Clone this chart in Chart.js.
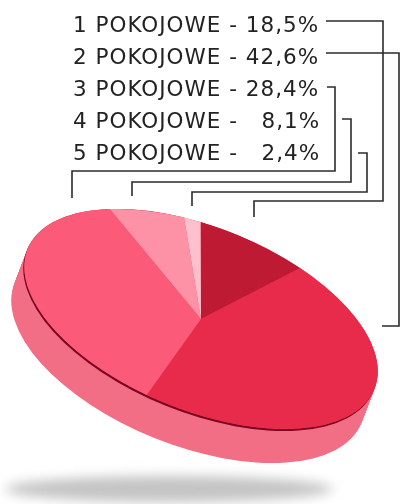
<!DOCTYPE html>
<html><head><meta charset="utf-8">
<style>html,body{margin:0;padding:0;background:#fff}canvas{display:block}</style>
<script src="https://cdn.jsdelivr.net/npm/chart.js@4"></script>
</head><body>
<canvas id="c" width="401" height="504"></canvas>
<script>
// Text as printed in the reference.
const categories = ["1 POKOJOWE","2 POKOJOWE","3 POKOJOWE","4 POKOJOWE","5 POKOJOWE"];
const statedPercent = ["18,5%","42,6%","28,4%","8,1%","2,4%"];
// Slice shares as actually drawn in the reference picture (they differ from the printed figures).
const drawnShares = [9.5, 45.5, 36.4, 7.1, 1.5];
const sliceColors = ["#be1a34","#e82b4b","#fb5a78","#fd92a6","#fec0cd"];

const labelStrings = categories.map((c,i)=>c+" - "+(statedPercent[i].length<5?"  ":"")+statedPercent[i]);

const ELL = {cx:201, cy:319, rx:187, ry:91.5, tilt:22*Math.PI/180};
const WALL = {dx:-13, dy:34, color:"#f26e85"};
const leaders = [
 [[326,21],[383,21],[383,201],[254,201],[254,217]],
 [[326,53],[399,53],[399,326],[382,326]],
 [[327,87],[335,87],[335,171],[72,171],[72,198]],
 [[342,119],[351,119],[351,182],[132,182],[132,196]],
 [[358,153],[367,153],[367,192],[192,192],[192,206]]
];

function ell(ctx,dx,dy,color){
  ctx.beginPath();
  ctx.ellipse(ELL.cx+dx,ELL.cy+dy,ELL.rx,ELL.ry,ELL.tilt,0,Math.PI*2);
  ctx.fillStyle=color;ctx.fill();
}
const tiltedPie = {
  id:"tiltedPie",
  beforeDatasetsDraw(chart){
    const ctx=chart.ctx;
    // floor shadow
    ctx.save();
    ctx.filter="blur(6px)";
    ctx.beginPath();
    ctx.ellipse(169,489,164,13,0,0,Math.PI*2);
    ctx.fillStyle="#c4c4c4";ctx.fill();
    ctx.restore();
    // side wall
    for(let i=0;i<=34;i++){ell(ctx,WALL.dx*i/34,WALL.dy*i/34,WALL.color);}
    // dark rim
    ell(ctx,-1,2,"#7a0420");
    ell(ctx,0,0,"#e82b4b");
    // project the pie into the tilted ellipse
    const a=chart.getDatasetMeta(0).data[0];
    const r=a.outerRadius;
    ctx.save();
    ctx.translate(ELL.cx,ELL.cy);
    ctx.rotate(ELL.tilt);
    ctx.scale(ELL.rx/r,ELL.ry/r);
    ctx.translate(-a.x,-a.y);
  },
  afterDatasetsDraw(chart){
    const ctx=chart.ctx;
    ctx.restore();
    // leader lines
    ctx.save();
    ctx.strokeStyle="#2b2b2b";ctx.lineWidth=1.6;ctx.lineJoin="miter";
    leaders.forEach(p=>{
      ctx.beginPath();
      p.forEach((q,i)=>i?ctx.lineTo(q[0],q[1]):ctx.moveTo(q[0],q[1]));
      ctx.stroke();
    });
    // labels
    ctx.filter="blur(0.45px)";
    ctx.fillStyle="#222";
    ctx.font='21.5px "DejaVu Sans"';
    ctx.textBaseline="alphabetic";
    ctx.letterSpacing="1px";
    labelStrings.forEach((s,i)=>{ctx.fillText(s,73,32+i*32.1);});
    ctx.restore();
  }
};
new Chart(document.getElementById("c"),{
  type:"pie",
  data:{labels:categories,datasets:[{data:drawnShares,backgroundColor:sliceColors,borderWidth:0,clip:false}]},
  options:{
    responsive:false,animation:false,rotation:-11.3,
    plugins:{legend:{display:false},tooltip:{enabled:false}}
  },
  plugins:[tiltedPie]
});
</script>
</body></html>
